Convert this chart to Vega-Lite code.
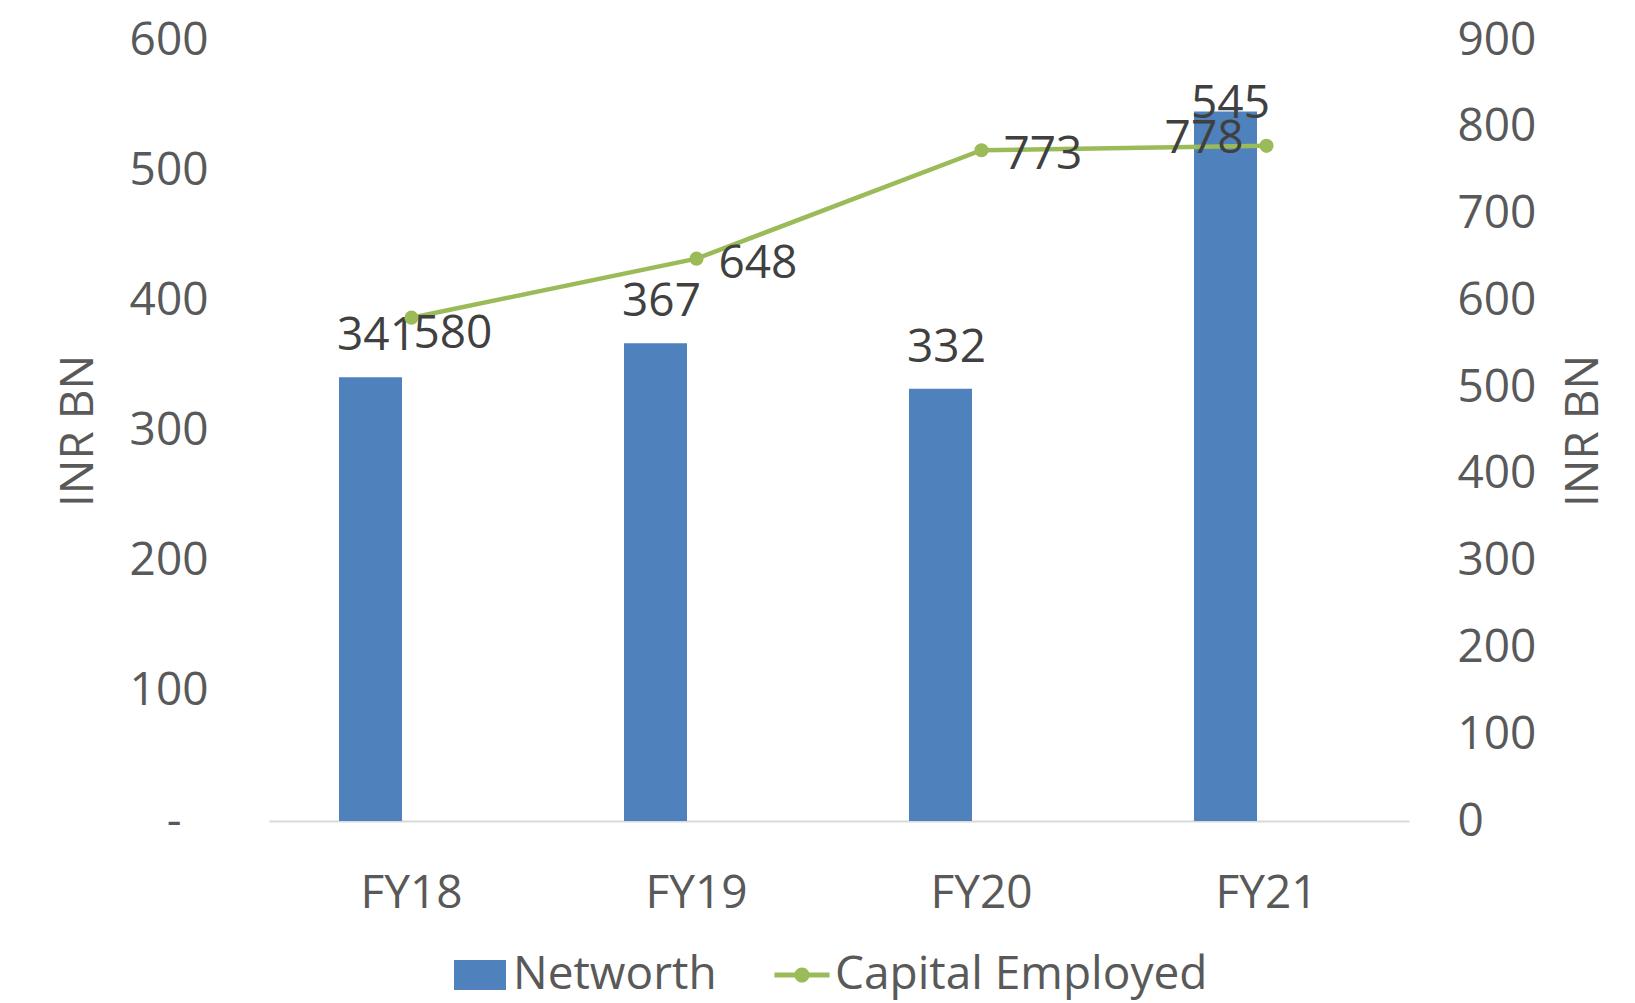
{
  "$schema": "https://vega.github.io/schema/vega-lite/v6.json",
  "width": 1140,
  "height": 781,
  "autosize": {"type": "none"},
  "padding": {"left": 269, "top": 40, "right": 226, "bottom": 182},
  "background": "white",
  "config": {
    "view": {"stroke": null},
    "font": "Open Sans",
    "axis": {"grid": false, "ticks": false, "labelFont": "Open Sans", "titleFont": "Open Sans", "labelFontSize": 46, "titleFontSize": 46, "labelColor": "#595959", "titleColor": "#595959", "titleFontWeight": "normal"}
  },
  "data": {
    "values": [
      {"year": "FY18", "networth": 341, "capital": 580},
      {"year": "FY19", "networth": 367, "capital": 648},
      {"year": "FY20", "networth": 332, "capital": 773},
      {"year": "FY21", "networth": 545, "capital": 778}
    ]
  },
  "encoding": {
    "x": {
      "field": "year",
      "type": "nominal",
      "sort": null,
      "scale": {"paddingInner": 0, "paddingOuter": 0},
      "axis": {
        "title": null,
        "labelAngle": 0,
        "labelPadding": 50,
        "labelBaseline": "top",
        "domain": true,
        "domainColor": "#D9D9D9",
        "domainWidth": 2
      }
    }
  },
  "layer": [
    {
      "encoding": {
        "y": {
          "field": "networth",
          "type": "quantitative",
          "scale": {"domain": [0, 600], "nice": false},
          "axis": {
            "orient": "left",
            "values": [0, 100, 200, 300, 400, 500, 600],
            "labelExpr": "datum.value == 0 ? '-' : datum.label",
            "labelPadding": {"condition": {"test": "datum.value == 0", "value": 88}, "value": 61},
            "domain": false,
            "title": "INR BN",
            "titleAngle": 270,
            "titleBaseline": "bottom",
            "titlePadding": 27
          }
        }
      },
      "layer": [
        {
          "mark": {"type": "bar", "width": 63, "xOffset": -41},
          "encoding": {
            "color": {
              "datum": "Networth",
              "type": "nominal",
              "scale": {"domain": ["Networth", "Capital Employed"], "range": ["#4F81BD", "#9BBB59"]},
              "legend": {
                "orient": "none",
                "legendX": 185,
                "legendY": 909,
                "direction": "horizontal",
                "title": null,
                "labelFont": "Open Sans",
                "labelFontSize": 46,
                "labelColor": "#595959",
                "labelOffset": 7,
                "labelLimit": 0,
                "columnPadding": 57,
                "padding": 0,
                "symbolSize": 2704,
                "symbolStrokeWidth": 0,
                "encoding": {
                  "symbols": {
                    "shape": {"value": {"expr": "datum.value == 'Networth' ? 'M-1,-0.577H1V0.577H-1Z' : 'M-1.06,-0.096H1.06V0.096H-1.06Z M0.29,0A0.29,0.29,0,1,1,-0.29,0A0.29,0.29,0,1,1,0.29,0Z'"}},
                    "fill": {"value": {"expr": "datum.value == 'Networth' ? '#4F81BD' : '#9BBB59'"}},
                    "stroke": {"value": "transparent"},
                    "strokeWidth": {"value": 0},
                    "opacity": {"value": 1}
                  }
                }
              }
            }
          }
        },
        {
          "transform": [{"filter": "datum.year != 'FY21'"}],
          "mark": {"type": "text", "font": "Open Sans", "fontSize": 46, "color": "#404040", "align": "center", "baseline": "alphabetic", "dx": -35, "dy": -27},
          "encoding": {"text": {"field": "networth", "type": "quantitative"}}
        },
        {
          "transform": [{"filter": "datum.year == 'FY21'"}],
          "mark": {"type": "text", "font": "Open Sans", "fontSize": 46, "color": "#404040", "align": "center", "baseline": "alphabetic", "dx": -36, "dy": 6},
          "encoding": {"text": {"field": "networth", "type": "quantitative"}}
        }
      ]
    },
    {
      "encoding": {
        "y": {
          "field": "capital",
          "type": "quantitative",
          "scale": {"domain": [0, 900], "nice": false},
          "axis": {
            "orient": "right",
            "values": [0, 100, 200, 300, 400, 500, 600, 700, 800, 900],
            "labelPadding": 48,
            "domain": false,
            "title": "INR BN",
            "titleAngle": 270,
            "titleBaseline": "top",
            "titlePadding": 26
          }
        }
      },
      "layer": [
        {
          "mark": {"type": "line", "strokeWidth": 4.5, "point": {"filled": true, "size": 200}},
          "encoding": {"color": {"datum": "Capital Employed", "type": "nominal"}}
        },
        {
          "transform": [{"filter": "datum.year == 'FY18'"}],
          "mark": {"type": "text", "font": "Open Sans", "fontSize": 46, "color": "#404040", "align": "left", "baseline": "alphabetic", "dx": 2, "dy": 30},
          "encoding": {"text": {"field": "capital", "type": "quantitative"}}
        },
        {
          "transform": [{"filter": "datum.year == 'FY19' || datum.year == 'FY20'"}],
          "mark": {"type": "text", "font": "Open Sans", "fontSize": 46, "color": "#404040", "align": "left", "baseline": "alphabetic", "dx": 22, "dy": 19},
          "encoding": {"text": {"field": "capital", "type": "quantitative"}}
        },
        {
          "transform": [{"filter": "datum.year == 'FY21'"}],
          "mark": {"type": "text", "font": "Open Sans", "fontSize": 46, "color": "#404040", "align": "right", "baseline": "alphabetic", "dx": -23, "dy": 7},
          "encoding": {"text": {"field": "capital", "type": "quantitative"}}
        }
      ]
    }
  ],
  "resolve": {"scale": {"y": "independent"}}
}
